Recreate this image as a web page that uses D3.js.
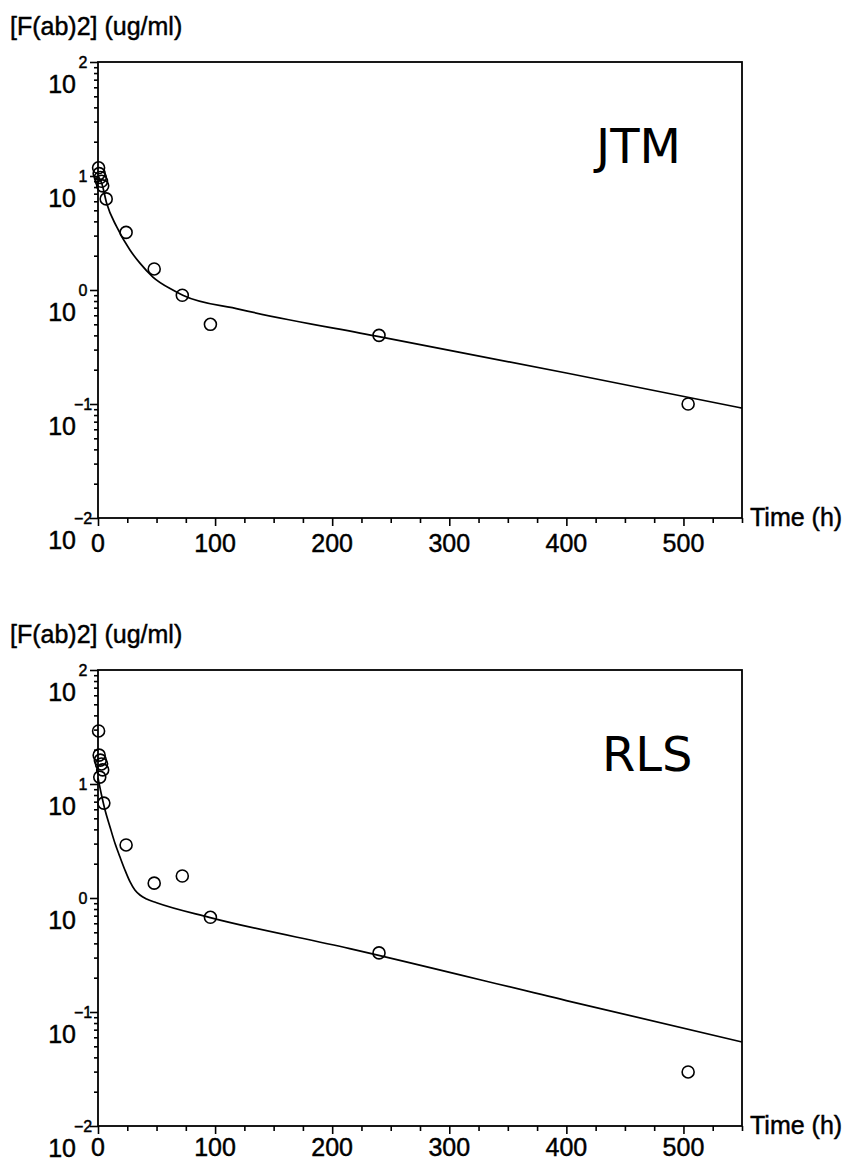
<!DOCTYPE html>
<html>
<head>
<meta charset="utf-8">
<script src="https://cdn.jsdelivr.net/npm/d3@7"></script>
<style>
  body { margin: 0; background: #fff; }
  text { font-family: "Liberation Sans", Arial, sans-serif; fill: #000; }
  .heavy { stroke: #000; stroke-width: 0.45px; }
</style>
</head>
<body>
<div id="vis"></div>
<script>
// ---- data ----
const yTitle = "[F(ab)2] (ug/ml)";
const xTitle = "Time (h)";
const panelNames = ["JTM", "RLS"];
const xTickValues = [0, 100, 200, 300, 400, 500];
const yDecades = [-2, -1, 0, 1, 2];

// JTM observed
const jtmTime = [0.5, 1, 2, 3, 4, 7, 24, 48, 72, 96, 240, 504];
const jtmConc = [11.8, 10.5, 9.7, 9.0, 8.2, 6.3, 3.2, 1.53, 0.9, 0.5, 0.4, 0.1];
// JTM fitted curve
const jtmFitTime = [0, 3.2, 7.4, 15.9, 27.3, 35.8, 46.9, 63.9, 72.4, 121, 240, 400, 550];
const jtmFitConc = [10.0, 8.63, 5.76, 3.59, 2.24, 1.72, 1.30, 1.0, 0.90, 0.677, 0.39, 0.187, 0.092];

// RLS observed
const rlsTime = [0.5, 1, 2, 3, 4, 1.5, 5, 24, 48, 72, 96, 240, 504];
const rlsConc = [29.2, 17.9, 16.2, 15.0, 13.3, 11.5, 6.8, 2.92, 1.35, 1.56, 0.677, 0.33, 0.0298];
// RLS fitted curve
const rlsFitTime = [0, 3, 6, 10.2, 14.5, 18.7, 23, 27.3, 31.5, 35.8, 41.5, 50, 95, 215, 400, 550];
const rlsFitConc = [11.3, 8.0, 5.91, 4.22, 3.02, 2.30, 1.76, 1.39, 1.175, 1.063, 0.98, 0.909, 0.677, 0.36, 0.126, 0.0546];

const width = 847;
const height = 1162;

const svg = d3.select("#vis").append("svg")
  .attr("width", width).attr("height", height);

function drawPanel(top, name, times, conc, fitTimes, fitConc, labelY) {
  const left = 98, right = 742, plotTop = top + 62, plotBottom = top + 518;

  const x = d3.scaleLinear().domain([0, 550]).range([left, right]);
  const y = d3.scaleLog().domain([0.01, 100]).range([plotBottom, plotTop]);

  const g = svg.append("g");

  // y title
  g.append("text").text(yTitle).attr("class", "heavy")
    .attr("x", 10).attr("y", top + 35)
    .style("font-size", "25px");

  // x axis ticks
  const xMinor = d3.range(0, 551, 25).filter(d => d % 100 !== 0);
  g.append("g").attr("transform", `translate(0,${plotBottom})`)
    .call(d3.axisBottom(x).tickValues(xMinor).tickSize(5).tickFormat(""))
    .call(a => a.select(".domain").remove());
  g.append("g").attr("transform", `translate(0,${plotBottom})`)
    .call(d3.axisBottom(x).tickValues(xTickValues).tickSize(8).tickFormat(""))
    .call(a => a.select(".domain").remove());

  g.selectAll(".xlab").data(xTickValues).join("text")
    .attr("class", "xlab heavy")
    .attr("x", d => x(d)).attr("y", labelY)
    .attr("text-anchor", "middle")
    .style("font-size", "25px")
    .text(d => d);

  g.append("text").text(xTitle).attr("class", "heavy")
    .attr("x", 750).attr("y", plotBottom + 8)
    .style("font-size", "25px");

  // y axis ticks
  const yMinor = [];
  yDecades.slice(0, -1).forEach(k => {
    for (let m = 2; m <= 9; m++) yMinor.push(m * Math.pow(10, k));
  });
  const yMajor = yDecades.map(k => Math.pow(10, k));
  g.append("g").attr("transform", `translate(${left},0)`)
    .call(d3.axisLeft(y).tickValues(yMinor).tickSize(4).tickFormat(""))
    .call(a => a.select(".domain").remove());
  g.append("g").attr("transform", `translate(${left},0)`)
    .call(d3.axisLeft(y).tickValues(yMajor).tickSize(8).tickFormat(""))
    .call(a => a.select(".domain").remove());

  g.selectAll(".ybase").data(yDecades).join("text")
    .attr("class", "ybase heavy")
    .attr("x", 76).attr("y", d => y(Math.pow(10, d)) + 31)
    .attr("text-anchor", "end")
    .style("font-size", "25px")
    .text("10");
  g.selectAll(".yexp").data(yDecades).join("text")
    .attr("class", "yexp heavy")
    .attr("x", 83).attr("y", d => y(Math.pow(10, d)))
    .attr("dy", "0.36em")
    .attr("text-anchor", "middle")
    .style("font-size", "16px")
    .text(d => d < 0 ? "\u2212" + (-d) : d);

  g.selectAll(".tick line").attr("stroke", "#000").attr("stroke-width", 1.6);

  // frame
  g.append("rect")
    .attr("x", left).attr("y", plotTop)
    .attr("width", right - left).attr("height", plotBottom - plotTop)
    .attr("fill", "none").attr("stroke", "#000").attr("stroke-width", 1.8);

  // fitted curve
  const line = d3.line()
    .x((d, i) => x(fitTimes[i]))
    .y((d, i) => y(fitConc[i]))
    .curve(d3.curveMonotoneX);
  g.append("path").datum(fitTimes)
    .attr("d", line)
    .attr("fill", "none").attr("stroke", "#000").attr("stroke-width", 1.7);

  // observed points
  g.selectAll(".pt").data(times).join("circle")
    .attr("class", "pt")
    .attr("cx", d => x(d)).attr("cy", (d, i) => y(conc[i]))
    .attr("r", 6)
    .attr("fill", "none").attr("stroke", "#000").attr("stroke-width", 1.6);

  // panel name
  g.append("text").text(name)
    .attr("x", name === "JTM" ? 596 : 602).attr("y", top + 163)
    .style("font-family", "'DejaVu Sans', sans-serif")
    .style("font-size", "48px");
}

drawPanel(0, panelNames[0], jtmTime, jtmConc, jtmFitTime, jtmFitConc, 552);
drawPanel(608, panelNames[1], rlsTime, rlsConc, rlsFitTime, rlsFitConc, 1156);
</script>
</body>
</html>
